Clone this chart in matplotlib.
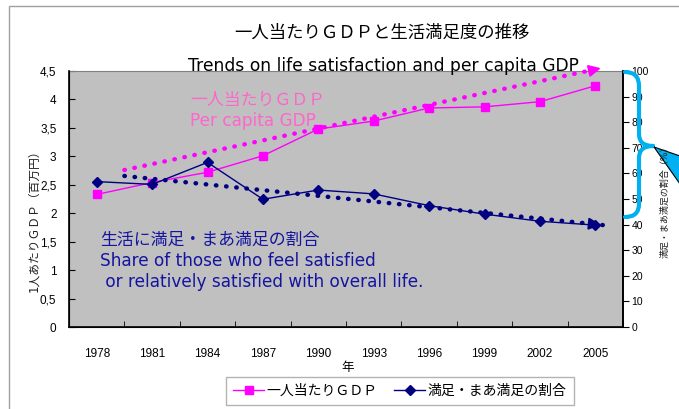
import matplotlib.pyplot as plt
import numpy as np
from matplotlib.path import Path
from matplotlib.patches import PathPatch, Polygon, Rectangle
from matplotlib.lines import Line2D

years = ['1978', '1981', '1984', '1987', '1990', '1993', '1996', '1999', '2002', '2005']
gdp = [2.33, 2.54, 2.72, 3.01, 3.48, 3.62, 3.85, 3.87, 3.96, 4.24]
satisfied = [56.8, 55.7, 64.3, 49.9, 53.5, 52.0, 47.4, 44.1, 41.3, 39.8]

# hand drawn trend arrows (category index, value)
trend_x = [0.5, 9.15]
gdp_trend = [2.76, 4.56]
sat_trend = [59.0, 39.8]

W, H = 679, 409
jp = ['DejaVu Sans', 'Noto Sans CJK JP']
num = 'Liberation Sans'

def fx(px):
    return px / W

def fy(py):
    return 1 - py / H

def P(px, py):
    return (fx(px), fy(py))

fig = plt.figure(figsize=(W / 100, H / 100), dpi=100)

# chart area border (cut off at right / bottom)
fig.patches.append(Rectangle((fx(9), fy(420)), 1.2, fy(6) - fy(420), transform=fig.transFigure,
                             fill=False, edgecolor='#a0a0a0', lw=1))

ax = fig.add_axes([fx(69), fy(327), fx(623) - fx(69), fy(71) - fy(327)])
ax.set_facecolor('#c0c0c0')
x = np.arange(len(years))

ax.plot(x, gdp, color='#ff00ff', lw=1, marker='s', ms=6, zorder=4)
ax.plot(trend_x, gdp_trend, color='#ff00ff', lw=3.2, linestyle=(0, (0.1, 2.2)),
        dash_capstyle='round', zorder=3, clip_on=False)
ax.annotate('', xy=(trend_x[1], gdp_trend[1]), xytext=(trend_x[1] - 0.25, gdp_trend[1] - 0.055),
            arrowprops=dict(arrowstyle='-|>,head_length=0.7,head_width=0.35', color='#ff00ff', lw=1.5),
            annotation_clip=False, zorder=5)

ax.set_xlim(-0.5, 9.5)
ax.set_ylim(0, 4.5)
ax.set_yticks(np.arange(0, 4.51, 0.5))
ax.set_yticklabels(['0', '0,5', '1', '1,5', '2', '2,5', '3', '3,5', '4', '4,5'],
                   fontsize=8.5, family=num)
ax.set_xticks(x)
ax.set_xticklabels(years, fontsize=8.5, family=num)
ax.set_xticks(np.arange(-0.5, 9.6, 1), minor=True)
ax.tick_params(axis='x', which='major', length=0, pad=15)
ax.tick_params(axis='x', which='minor', direction='in', length=4)
ax.tick_params(axis='y', direction='in', length=4, pad=9)
for s in ['left', 'bottom', 'right']:
    ax.spines[s].set_color('black')
    ax.spines[s].set_linewidth(1.2)
ax.spines['top'].set_color('#808080')
ax.spines['top'].set_linewidth(0.8)

ax2 = ax.twinx()
ax2.plot(x, satisfied, color='#000080', lw=1, marker='D', ms=5, zorder=4)
ax2.plot(trend_x, sat_trend, color='#000080', lw=3.2, linestyle=(0, (0.1, 2.2)),
         dash_capstyle='round', zorder=3, clip_on=False)
ax2.annotate('', xy=(trend_x[1], sat_trend[1]), xytext=(trend_x[1] - 0.25, sat_trend[1] + 0.5),
             arrowprops=dict(arrowstyle='-|>,head_length=0.7,head_width=0.35', color='#000080', lw=1.5),
             annotation_clip=False, zorder=5)
ax2.set_ylim(0, 100)
ax2.set_yticks(np.arange(0, 101, 10))
ax2.tick_params(axis='y', direction='out', length=4, pad=2, labelsize=7.5, color='black')
for lab in ax2.get_yticklabels():
    lab.set_family(num)
ax2.spines['right'].set_color('black')
ax2.spines['right'].set_linewidth(1.2)
ax2.spines['top'].set_visible(False)

# titles
fig.text(fx(382), fy(33), '一人当たりＧＤＰと生活満足度の推移', ha='center', va='center',
         fontsize=12.5, family=jp)
fig.text(fx(383), fy(66), 'Trends on life satisfaction and per capita GDP', ha='center', va='center',
         fontsize=12.3, family=jp, zorder=10)

# axis titles
fig.text(fx(34), fy(218), '1人あたりＧＤＰ（百万円）', rotation=90, ha='center', va='center',
         fontsize=8.5, family=jp, color='#202020')
fig.text(fx(348), fy(368), '年', ha='center', va='center', fontsize=9, family=jp)
fig.text(fx(665), fy(200), '満足・まあ満足の割合（%）', rotation=90, ha='center', va='center',
         fontsize=6.5, family=jp, color='#202020')

# series captions
fig.text(fx(190), fy(100), '一人当たりＧＤＰ', ha='left', va='center', fontsize=12.2,
         family=jp, color='#ff66cc', zorder=10)
fig.text(fx(190), fy(121), 'Per capita GDP', ha='left', va='center', fontsize=12.2,
         family=jp, color='#ff66cc', zorder=10)
fig.text(fx(100), fy(240), '生活に満足・まあ満足の割合', ha='left', va='center', fontsize=12.2,
         family=jp, color='#1414a0')
fig.text(fx(100), fy(261), 'Share of those who feel satisfied', ha='left', va='center',
         fontsize=12.2, family=jp, color='#1414a0')
fig.text(fx(100), fy(282), ' or relatively satisfied with overall life.', ha='left', va='center',
         fontsize=12.2, family=jp, color='#1414a0')

# blue brace + callout on the right
codes = [Path.MOVETO, Path.CURVE3, Path.CURVE3, Path.LINETO,
         Path.CURVE3, Path.CURVE3, Path.MOVETO,
         Path.CURVE3, Path.CURVE3, Path.LINETO, Path.CURVE3, Path.CURVE3]
verts = [P(625, 72), P(639, 72), P(639, 86), P(639, 134),
         P(639, 146), P(653, 146), P(653, 146),
         P(639, 146), P(639, 158), P(639, 204), P(639, 217), P(625, 217)]
fig.patches.append(PathPatch(Path(verts, codes), transform=fig.transFigure, fill=False,
                             edgecolor='#00b0f0', lw=3, capstyle='round'))
fig.patches.append(Polygon([P(654, 147), P(680, 156), P(680, 184)], closed=True,
                           transform=fig.transFigure, facecolor='#00b0f0',
                           edgecolor='black', lw=0.8))

# legend
h1 = Line2D([], [], color='#ff00ff', lw=1, marker='s', ms=6)
h2 = Line2D([], [], color='#000080', lw=1, marker='D', ms=5)
leg = fig.legend([h1, h2], ['一人当たりＧＤＰ', '満足・まあ満足の割合'], ncol=2,
                 loc='center', bbox_to_anchor=(fx(400), fy(391)), frameon=True, fancybox=False,
                 prop={'family': jp, 'size': 10}, handlelength=2.2, handletextpad=0.2,
                 columnspacing=1.2, borderpad=0.5)
leg.get_frame().set_edgecolor('#a0a0a0')
leg.get_frame().set_linewidth(1)

fig.savefig('out.png', dpi=100)
